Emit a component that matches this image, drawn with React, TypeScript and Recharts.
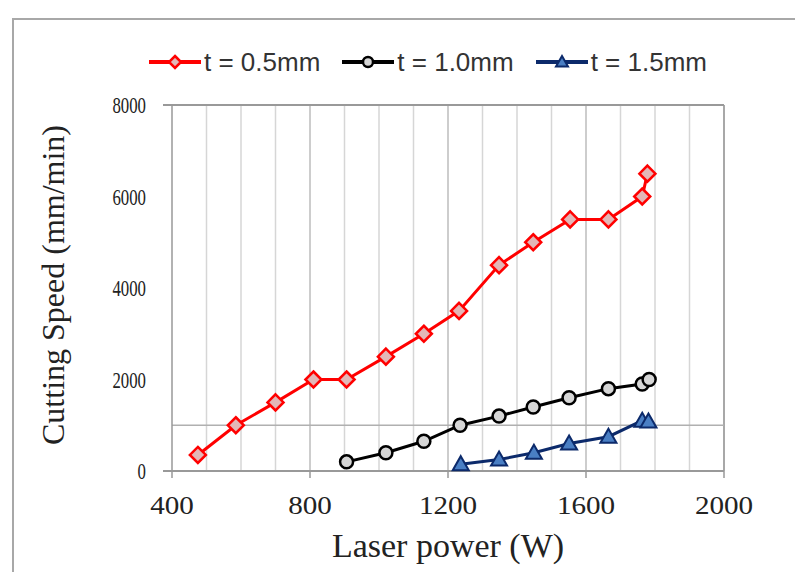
import React from "react";
import {
  Label,
  Line,
  LineChart,
  ReferenceLine,
  XAxis,
  YAxis,
} from "recharts";

// 레이저 출력별 절단 속도 (두께 t 별 3개 계열)

const powerT05 = [475, 585, 700, 810, 906, 1020, 1130, 1232, 1348, 1447, 1554, 1665, 1763, 1778];
const speedT05 = [350, 1000, 1500, 2000, 2000, 2500, 3000, 3500, 4500, 5000, 5500, 5500, 6000, 6500];

const powerT10 = [906, 1020, 1130, 1235, 1348, 1447, 1551, 1665, 1763, 1783];
const speedT10 = [200, 400, 650, 1000, 1200, 1400, 1600, 1800, 1900, 2000];

const powerT15 = [1237, 1348, 1449, 1551, 1665, 1763, 1781];
const speedT15 = [150, 250, 400, 600, 750, 1100, 1080];

const xTicks = [400, 800, 1200, 1600, 2000];
const yTicks = [0, 2000, 4000, 6000, 8000];
const minorGridX = [500, 600, 700, 900, 1000, 1100, 1300, 1400, 1500, 1700, 1800, 1900];
const majorGridX = [800, 1200, 1600];

const seriesNames = ["t = 0.5mm", "t = 1.0mm", "t = 1.5mm"];

const toPoints = (xs: number[], ys: number[]) => xs.map((x, i) => ({ x, y: ys[i] }));

const dataT05 = toPoints(powerT05, speedT05);
const dataT10 = toPoints(powerT10, speedT10);
const dataT15 = toPoints(powerT15, speedT15);

const RED = "#ff0000";
const NAVY = "#0c2a6b";
const SERIF = "'Liberation Serif', 'Times New Roman', serif";

const Diamond = ({ cx, cy, s = 8 }: any) => (
  <path
    d={`M${cx},${cy - s} L${cx + s},${cy} L${cx},${cy + s} L${cx - s},${cy} Z`}
    fill="#e3b7b7"
    stroke={RED}
    strokeWidth={2.5}
  />
);
const Ring = ({ cx, cy, r = 6.5 }: any) => (
  <circle cx={cx} cy={cy} r={r} fill="#d6d6d6" stroke="#000" strokeWidth={2.5} />
);
const Tri = ({ cx, cy, s = 8 }: any) => (
  <path
    d={`M${cx},${cy - s} L${cx + s},${cy + s * 0.75} L${cx - s},${cy + s * 0.75} Z`}
    fill="#4a7fc4"
    stroke={NAVY}
    strokeWidth={2}
  />
);

const renderYTick = (p: any) => {
  const { x, y, payload } = p;
  const v = payload.value;
  return (
    <g key={`yt-${v}`}>
      {(v === 0 || v === 8000) && (
        <line x1={x + 17} x2={x + 26} y1={y} y2={y} stroke="#999" strokeWidth={2} />
      )}
      <text
        x={0}
        y={0}
        textAnchor="end"
        dominantBaseline="central"
        transform={`translate(${x},${y}) scale(0.7,1)`}
        style={{ fontFamily: SERIF, fontSize: 24, fill: "#222" }}
      >
        {v}
      </text>
    </g>
  );
};

const renderXTick = (p: any) => {
  const { x, y, payload } = p;
  return (
    <text
      key={`xt-${payload.value}`}
      x={0}
      y={0}
      textAnchor="middle"
      dominantBaseline="central"
      transform={`translate(${x},${y}) scale(1.12,1)`}
      style={{ fontFamily: SERIF, fontSize: 26, fill: "#222" }}
    >
      {payload.value}
    </text>
  );
};

const legendMarks = [
  { color: RED, mark: <Diamond cx={26} cy={10} s={6} /> },
  { color: "#000", mark: <Ring cx={26} cy={10} r={5} /> },
  { color: NAVY, mark: <Tri cx={26} cy={10} s={6} /> },
];

export default function App() {
  return (
    <div
      style={{
        position: "relative",
        width: 795,
        height: 564,
        overflow: "hidden",
        background: "#fff",
      }}
    >
      <div
        style={{
          position: "absolute",
          left: 4,
          top: 10,
          width: 1000,
          height: 1000,
          border: "2px solid #a8a8a8",
        }}
      />
      <div
        style={{
          position: "absolute",
          left: 141,
          top: 39,
          height: 30,
          display: "flex",
          alignItems: "center",
          fontFamily: "'Liberation Sans', sans-serif",
          fontSize: 26,
          color: "#333",
        }}
      >
        {seriesNames.map((name, i) => (
          <div key={name} style={{ display: "flex", alignItems: "center", marginRight: 22 }}>
            <svg width={52} height={20}>
              <line x1={0} x2={52} y1={10} y2={10} stroke={legendMarks[i].color} strokeWidth={4} />
              {legendMarks[i].mark}
            </svg>
            <span style={{ marginLeft: 3, whiteSpace: "nowrap" }}>{name}</span>
          </div>
        ))}
      </div>
      <div style={{ position: "absolute", left: 0, top: 0 }}>
        <LineChart width={795} height={564} margin={{ top: 97, right: 79, left: 0, bottom: 0 }}>
          <XAxis
            type="number"
            dataKey="x"
            domain={[400, 2000]}
            ticks={xTicks}
            allowDataOverflow
            height={101}
            tickSize={7}
            tickMargin={27}
            tick={renderXTick}
            axisLine={{ stroke: "#999", strokeWidth: 2 }}
            tickLine={{ stroke: "#999", strokeWidth: 1.5 }}
          >
            <Label
              content={({ viewBox }: any) => (
                <text
                  x={viewBox.x + viewBox.width / 2}
                  y={549}
                  textAnchor="middle"
                  style={{ fontFamily: SERIF, fontSize: 34, fill: "#222" }}
                >
                  Laser power (W)
                </text>
              )}
            />
          </XAxis>
          <YAxis
            type="number"
            dataKey="y"
            domain={[0, 8000]}
            ticks={yTicks}
            width={164}
            tickSize={0}
            tickMargin={26}
            tick={renderYTick}
            axisLine={{ stroke: "#999", strokeWidth: 1.5 }}
            tickLine={false}
          >
            <Label
              content={({ viewBox }: any) => {
                const cx = 45;
                const cy = viewBox.y + viewBox.height / 2 - 3;
                return (
                  <text
                    x={cx}
                    y={cy}
                    textAnchor="middle"
                    dominantBaseline="central"
                    transform={`rotate(-90, ${cx}, ${cy})`}
                    style={{ fontFamily: SERIF, fontSize: 32, fill: "#222" }}
                  >
                    Cutting Speed (mm/min)
                  </text>
                );
              }}
            />
          </YAxis>
          {minorGridX.map((v) => (
            <ReferenceLine key={v} x={v} stroke="#d6d6d6" strokeWidth={1.5} />
          ))}
          {majorGridX.map((v) => (
            <ReferenceLine key={v} x={v} stroke="#bdbdbd" strokeWidth={1.5} />
          ))}
          <ReferenceLine x={2000} stroke="#a8a8a8" strokeWidth={2} />
          <ReferenceLine y={8000} stroke="#999" strokeWidth={2} />
          <ReferenceLine y={1000} stroke="#b0b0b0" strokeWidth={1.5} />
          <Line
            data={dataT05}
            dataKey="y"
            name={seriesNames[0]}
            stroke={RED}
            strokeWidth={3}
            isAnimationActive={false}
            dot={(p: any) => <Diamond key={p.index} cx={p.cx} cy={p.cy} />}
          />
          <Line
            data={dataT10}
            dataKey="y"
            name={seriesNames[1]}
            stroke="#000"
            strokeWidth={3}
            isAnimationActive={false}
            dot={(p: any) => <Ring key={p.index} cx={p.cx} cy={p.cy} />}
          />
          <Line
            data={dataT15}
            dataKey="y"
            name={seriesNames[2]}
            stroke={NAVY}
            strokeWidth={3}
            isAnimationActive={false}
            dot={(p: any) => <Tri key={p.index} cx={p.cx} cy={p.cy} />}
          />
        </LineChart>
      </div>
    </div>
  );
}
